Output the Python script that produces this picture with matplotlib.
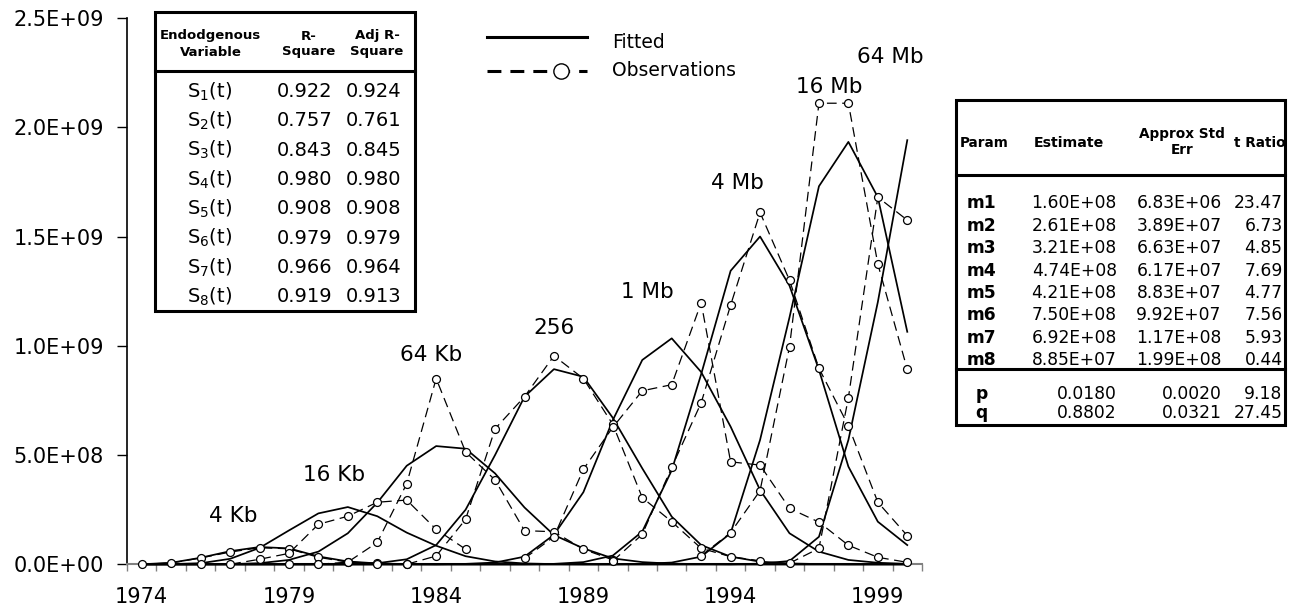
import matplotlib
matplotlib.use("Agg")
import matplotlib.pyplot as plt
from matplotlib.lines import Line2D
from matplotlib.patches import Rectangle
import numpy as np

# ---- data (sales values in units of 1E+08) ----
years = list(range(1974, 2001))
generations = ["4 Kb", "16 Kb", "64 Kb", "256", "1 Mb", "4 Mb", "16 Mb", "64 Mb"]

fit_4kb = [0.00, 0.07, 0.30, 0.60, 0.79, 0.73, 0.36, 0.13, 0.04, 0.01] + [0.0] * 17
fit_16kb = [0.00, 0.01, 0.05, 0.25, 0.75, 1.55, 2.33, 2.62, 2.20, 1.45,
            0.85, 0.37, 0.13, 0.04, 0.01] + [0.0] * 12
fit_64kb = [0.0] * 3 + [0.01, 0.05, 0.20, 0.58, 1.42, 2.82, 4.51, 5.41, 5.29,
                        4.16, 2.60, 1.34, 0.73, 0.27, 0.10, 0.03, 0.01] + [0.0] * 7
fit_256kb = [0.0] * 8 + [0.05, 0.23, 0.88, 2.50, 5.00, 7.67, 8.93, 8.58, 6.70,
                         4.39, 2.18, 0.88, 0.35, 0.12, 0.04, 0.01] + [0.0] * 3
fit_1mb = [0.0] * 11 + [0.02, 0.08, 0.35, 1.35, 3.30, 6.60, 9.35, 10.34, 8.80,
                        6.30, 3.40, 1.42, 0.58, 0.20, 0.07, 0.02]
fit_4mb = [0.0] * 14 + [0.02, 0.10, 0.40, 1.50, 4.30, 8.70, 13.43, 15.00, 12.75,
                        8.90, 4.47, 1.95, 0.88]
fit_16mb = [0.0] * 17 + [0.02, 0.08, 0.35, 1.42, 5.69, 11.30, 17.30, 19.33, 16.80, 10.64]
fit_64mb = [0.0] * 21 + [0.03, 0.15, 1.26, 5.69, 12.00, 19.41]

obs_start = [1974, 1976, 1979, 1982, 1987, 1990, 1993, 1996]
obs_4kb = [0.00, 0.06, 0.29, 0.56, 0.76, 0.71, 0.32, 0.10, 0.05, 0.00]
obs_16kb = [0.00, 0.00, 0.23, 0.50, 1.83, 2.20, 2.84, 2.94, 1.60, 0.69]
obs_64kb = [0.00, 0.00, 0.10, 1.00, 3.69, 8.50, 5.14, 3.86, 1.54, 1.49, 0.69, 0.20]
obs_256kb = [0.00, 0.00, 0.38, 2.06, 6.20, 7.67, 9.54, 8.50, 6.40, 3.05, 1.95, 0.73, 0.35, 0.16]
obs_1mb = [0.27, 1.26, 4.35, 6.27, 7.94, 8.22, 11.97, 4.69, 4.54, 2.56, 1.93, 0.87, 0.32, 0.09]
obs_4mb = [0.15, 1.37, 4.44, 7.39, 11.86, 16.10, 13.00, 8.97, 6.34, 2.84, 1.31]
obs_16mb = [0.39, 1.45, 3.37, 9.95, 21.10, 21.10, 13.74, 8.92]
obs_64mb = [0.05, 0.73, 7.62, 16.80, 15.75]

fits = [fit_4kb, fit_16kb, fit_64kb, fit_256kb, fit_1mb, fit_4mb, fit_16mb, fit_64mb]
observations = [obs_4kb, obs_16kb, obs_64kb, obs_256kb, obs_1mb, obs_4mb, obs_16mb, obs_64mb]

# R-square table
r2_vars = ["S$_%d$(t)" % i for i in range(1, 9)]
r_square = ["0.922", "0.757", "0.843", "0.980", "0.908", "0.979", "0.966", "0.919"]
adj_r_square = ["0.924", "0.761", "0.845", "0.980", "0.908", "0.979", "0.964", "0.913"]

# parameter table
params = ["m1", "m2", "m3", "m4", "m5", "m6", "m7", "m8", "p", "q"]
estimates = ["1.60E+08", "2.61E+08", "3.21E+08", "4.74E+08", "4.21E+08",
             "7.50E+08", "6.92E+08", "8.85E+07", "0.0180", "0.8802"]
std_errs = ["6.83E+06", "3.89E+07", "6.63E+07", "6.17E+07", "8.83E+07",
            "9.92E+07", "1.17E+08", "1.99E+08", "0.0020", "0.0321"]
t_ratios = ["23.47", "6.73", "4.85", "7.69", "4.77", "7.56", "5.93", "0.44", "9.18", "27.45"]

# ---- figure ----
W, H = 1299, 610
plt.rcParams["lines.scale_dashes"] = False
plt.rcParams["font.family"] = "DejaVu Sans"

def fx(x):
    return x / W

def fy(y):
    return 1 - y / H

fig = plt.figure(figsize=(W / 100, H / 100), dpi=100)
ax = fig.add_axes([fx(127), fy(564.3), (922 - 127) / W, (564.3 - 18) / H])

idx = np.arange(len(years))
for fit in fits:
    ax.plot(idx, np.array(fit) * 1e8, color="black", lw=1.25, clip_on=False, zorder=3)

for start, obs in zip(obs_start, observations):
    xs = np.arange(len(obs)) + years.index(start)
    ax.plot(xs, np.array(obs) * 1e8, color="black", lw=0.9, ls=(0, (7, 4)),
            marker="o", ms=5.7, mfc="white", mec="black", mew=0.9,
            clip_on=False, zorder=4)

ax.set_xlim(-0.5, len(years) - 0.5)
ax.set_ylim(0, 2.5e9)
yt = [0, 5e8, 1e9, 1.5e9, 2e9, 2.5e9]
ax.set_yticks(yt)
ax.set_yticklabels(["%.1E" % v for v in yt])
ax.set_xticks([years.index(y) for y in years[::5]])
ax.set_xticklabels([str(y) for y in years[::5]])
ax.set_xticks(np.arange(-0.5, len(years)), minor=True)

ax.spines["top"].set_visible(False)
ax.spines["right"].set_visible(False)
ax.spines["left"].set_linewidth(1.2)
ax.spines["bottom"].set_color("#808080")
ax.spines["bottom"].set_linewidth(1.5)
ax.tick_params(axis="y", length=7, width=1.0, pad=9.5, labelsize=15)
ax.tick_params(axis="x", which="major", length=0, pad=16, labelsize=15)
ax.tick_params(axis="x", which="minor", length=5, width=1.0, color="#808080")

# generation labels
label_pos = [(3.12, 2.21e8), (6.52, 4.08e8), (9.84, 9.58e8), (14.01, 10.82e8),
             (17.18, 12.47e8), (20.22, 17.43e8), (23.36, 21.83e8), (25.42, 23.2e8)]
for name, (lx, ly) in zip(generations, label_pos):
    ax.text(lx, ly, name, fontsize=15.5, ha="center", va="center")

# legend
fig.add_artist(Line2D([fx(486.7), fx(587.3)], [fy(37.3), fy(37.3)], color="black", lw=2.2))
fig.add_artist(Line2D([fx(486.7), fx(587.3)], [fy(70.7), fy(70.7)], color="black", lw=2.2,
                      ls=(0, (10, 6.5))))
fig.add_artist(Line2D([fx(560.7)], [fy(70.7)], marker="o", ms=11, mfc="white",
                      mec="black", mew=1.0, ls="none"))
fig.text(fx(611.7), fy(42), "Fitted", fontsize=13.5, va="center")
fig.text(fx(611.7), fy(70.5), "Observations", fontsize=13.5, va="center")

# R-square table
box_lw = 2.2
fig.add_artist(Rectangle((fx(155), fy(311)), (415 - 155) / W, (311 - 12) / H,
                         fill=False, ec="black", lw=box_lw, transform=fig.transFigure))
fig.add_artist(Line2D([fx(155), fx(415)], [fy(71), fy(71)], color="black", lw=box_lw))
for cx, head in [(210.5, "Endodgenous\nVariable"), (309, "R-\nSquare"), (377, "Adj R-\nSquare")]:
    fig.text(fx(cx), fy(44), head, fontsize=9.5, fontweight="bold", ha="center",
             va="center", multialignment="center", linespacing=1.3)
for i in range(len(r2_vars)):
    ry = fy(91.7 + 29.3 * i)
    fig.text(fx(210), ry, r2_vars[i], fontsize=14, ha="center", va="center")
    fig.text(fx(305), ry, r_square[i], fontsize=14, ha="center", va="center")
    fig.text(fx(373.3), ry, adj_r_square[i], fontsize=14, ha="center", va="center")

# parameter table
fig.add_artist(Rectangle((fx(956), fy(425)), (1285 - 956) / W, (425 - 100) / H,
                         fill=False, ec="black", lw=box_lw, transform=fig.transFigure))
fig.add_artist(Line2D([fx(956), fx(1285)], [fy(175), fy(175)], color="black", lw=box_lw))
fig.add_artist(Line2D([fx(956), fx(1285)], [fy(369.3), fy(369.3)], color="black", lw=box_lw))
fig.text(fx(984), fy(143), "Param", fontsize=9.8, fontweight="bold", ha="center", va="center")
fig.text(fx(1069), fy(143), "Estimate", fontsize=10.2, fontweight="bold", ha="center", va="center")
fig.text(fx(1181.7), fy(141.7), "Approx Std\nErr", fontsize=9.8, fontweight="bold", ha="center",
         va="center", multialignment="center", linespacing=1.15)
fig.text(fx(1259.5), fy(143), "t Ratio", fontsize=9.8, fontweight="bold", ha="center", va="center")
row_y = [203.3 + 22.4 * i for i in range(8)] + [394, 413.3]
for i in range(len(params)):
    ry = fy(row_y[i])
    fig.text(fx(981.7), ry, params[i], fontsize=12.3, fontweight="bold", ha="center", va="center")
    fig.text(fx(1116.7), ry, estimates[i], fontsize=12.3, ha="right", va="center")
    fig.text(fx(1221.7), ry, std_errs[i], fontsize=12.3, ha="right", va="center")
    fig.text(fx(1282.5), ry, t_ratios[i], fontsize=12.3, ha="right", va="center")

fig.savefig("out.png", dpi=100, facecolor="white")
